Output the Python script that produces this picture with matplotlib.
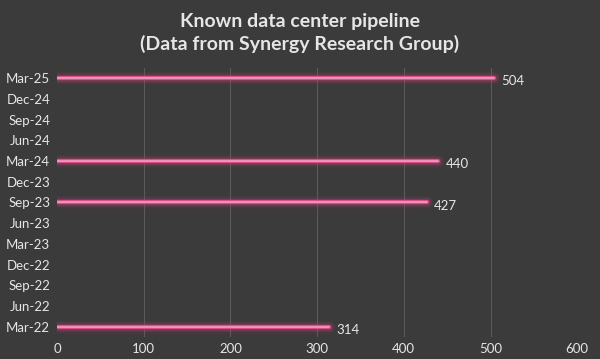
import matplotlib.pyplot as plt
import numpy as np

quarters = ['Mar-22', 'Jun-22', 'Sep-22', 'Dec-22', 'Mar-23', 'Jun-23', 'Sep-23',
            'Dec-23', 'Mar-24', 'Jun-24', 'Sep-24', 'Dec-24', 'Mar-25']
pipeline = [314, 0, 0, 0, 0, 0, 427, 0, 440, 0, 0, 0, 504]
xticks = [0, 100, 200, 300, 400, 500, 600]

bg = '#3b3b3b'
txt = '#e6e6e6'
plt.rcParams['font.family'] = ['Lato', 'DejaVu Sans']

fig = plt.figure(figsize=(6, 3.59), dpi=100, facecolor=bg)
ax = fig.add_axes([0.095, 0.061, 0.867, 0.75], facecolor=bg)

y = np.arange(len(quarters))
vals = np.array(pipeline, dtype=float)
has = vals > 0
# glow: wide faint lines under a bright core
for lw, a in [(9, 0.08), (7, 0.12), (5, 0.25)]:
    ax.hlines(y[has], 0, vals[has], color='#d03a78', lw=lw, alpha=a, capstyle='round')
ax.hlines(y[has], 0, vals[has], color='#d8508a', lw=3, capstyle='round')
ax.hlines(y[has], 0, vals[has], color='#f0a0c0', lw=1.2, capstyle='round')

for yi, v in zip(y[has], vals[has]):
    ax.text(v + 8, yi - 0.15, str(int(v)), color=txt, fontsize=9.5, va='center', ha='left')

ax.set_xlim(0, 600)
ax.set_ylim(-0.5, len(quarters) - 0.5)
ax.set_yticks(y)
ax.set_yticklabels(quarters)
ax.set_xticks(xticks)
ax.tick_params(colors=txt, labelsize=9.5, length=0, pad=4)
ax.tick_params(axis='y', pad=5)
for s in ax.spines.values():
    s.set_visible(False)
for xt in xticks[1:]:
    ax.axvline(xt, color='#5a5a5a', lw=0.8, zorder=0)

fig.suptitle('Known data center pipeline\n(Data from Synergy Research Group)',
             color=txt, fontsize=14, fontweight='bold', y=0.965, linespacing=1.35)

fig.savefig('out.png', facecolor=bg)
